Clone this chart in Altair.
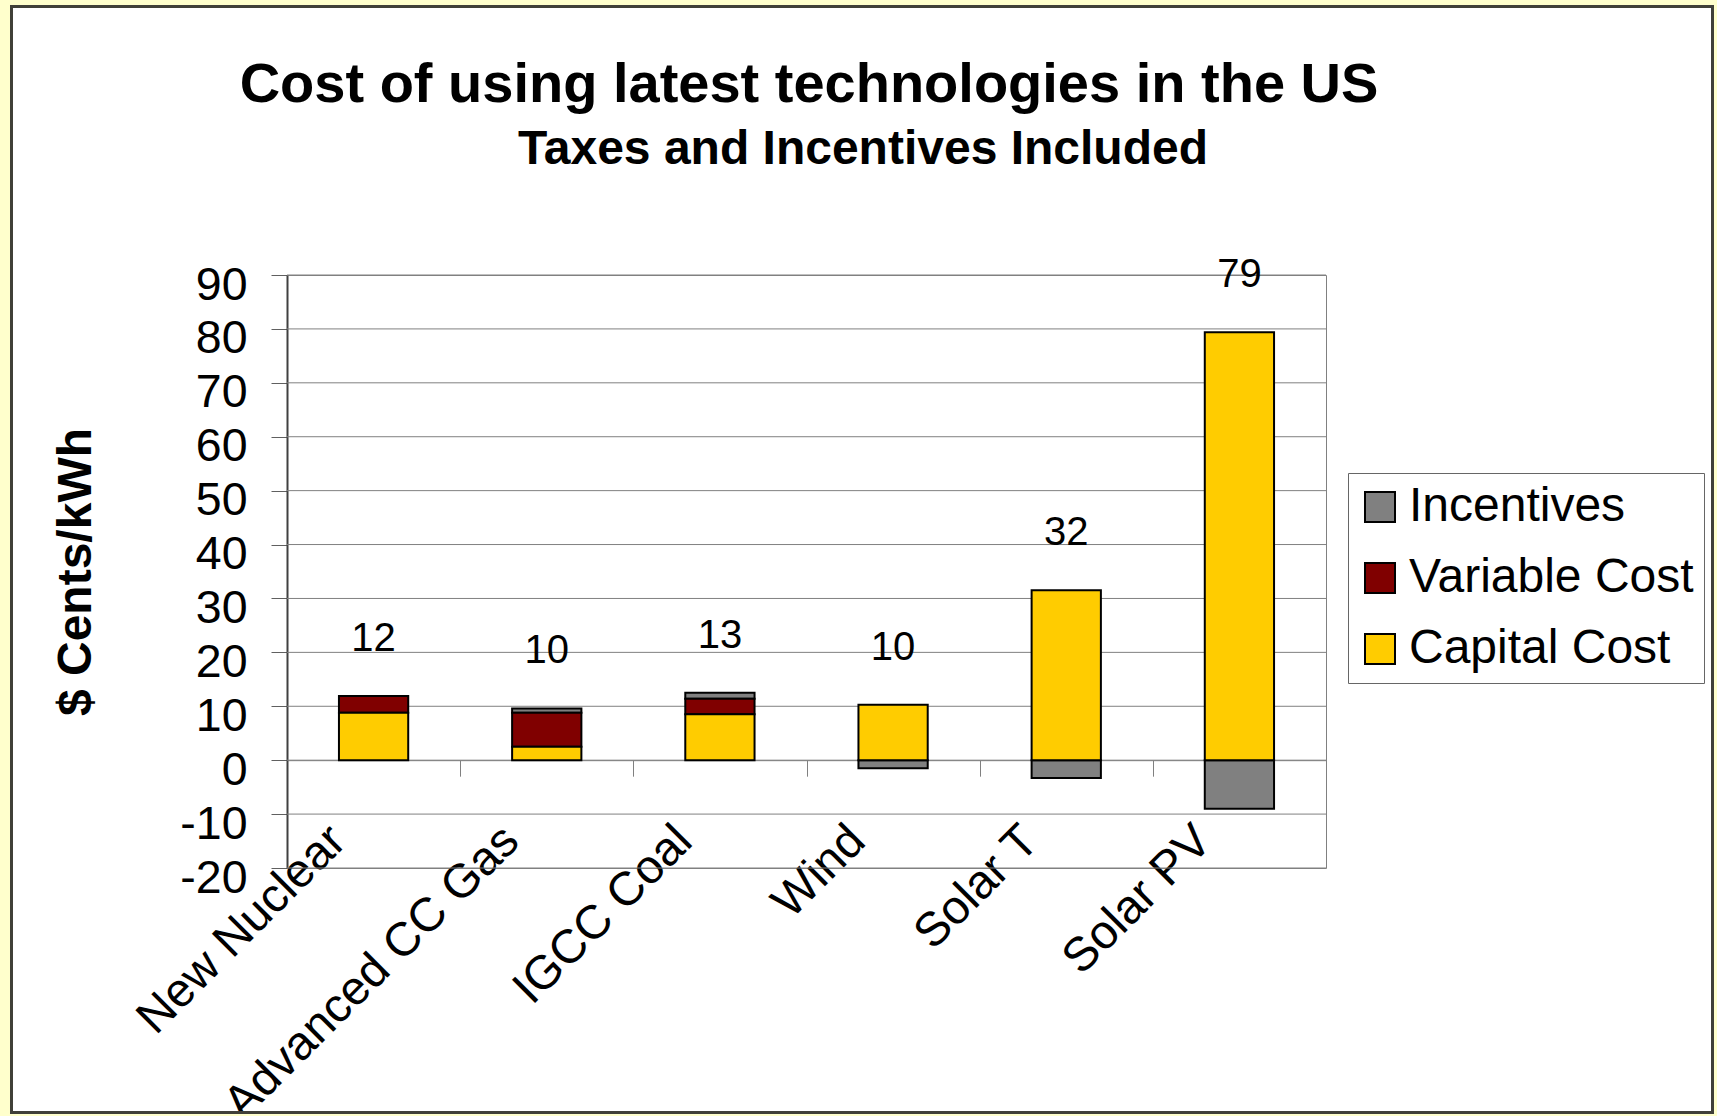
import altair as alt
import pandas as pd

# ---------------- data ----------------
categories = ["New Nuclear", "Advanced CC Gas", "IGCC Coal", "Wind", "Solar T", "Solar PV"]
capital_cost = [8.8, 2.5, 8.5, 10.3, 31.5, 79.4]
variable_cost = [3.1, 6.3, 2.9, 0.0, 0.0, 0.0]
incentives = [0.0, 0.8, 1.1, -1.5, -3.3, -9.0]
total_labels = ["12", "10", "13", "10", "32", "79"]

series = ["Incentives", "Variable Cost", "Capital Cost"]
series_colors = ["#808080", "#800000", "#FFCC00"]
stack_rank = [2, 1, 0]
y_ticks = list(range(-20, 91, 10))

title_text = "Cost of using latest technologies in the US"
subtitle_text = "Taxes and Incentives Included"
y_title = "$ Cents/kWh"

# ---------------- layout ----------------
W, H = 1039, 593
PAD_L, PAD_T, PAD_R, PAD_B = 287, 275, 391, 248
FONT = "Liberation Sans"

series_values = {"Incentives": incentives, "Variable Cost": variable_cost, "Capital Cost": capital_cost}
rows = []
for i, c in enumerate(categories):
    for s, r in zip(series, stack_rank):
        v = series_values[s][i]
        if v != 0:
            rows.append({"Technology": c, "Series": s, "Value": v, "Rank": r})
bars_df = pd.DataFrame(rows)

labels_df = pd.DataFrame({
    "Technology": categories,
    "Top": [capital_cost[i] + variable_cost[i] + max(incentives[i], 0) for i in range(len(categories))],
    "Label": total_labels,
})
grid_df = pd.DataFrame({"v": y_ticks})
one = pd.DataFrame({"t": [title_text], "s": [subtitle_text]})

y_scale = alt.Scale(domain=[-20, 90], nice=False, zero=False)
x_scale = alt.Scale(domain=categories, paddingInner=0, paddingOuter=0)

y_axis = alt.Axis(
    values=y_ticks, grid=False, domain=True, domainColor="#404040", domainWidth=2,
    ticks=True, tickSize=16, tickColor="#606060", tickWidth=1,
    labelFontSize=46.5, labelColor="black", labelPadding=24, labelOffset=10,
    labelBaseline="middle", labelFlush=False, labelOverlap=False,
    labelExpr="'' + datum.value",
    title=y_title, titleFontSize=48, titleFontWeight="bold", titleColor="black",
    titleAngle=270, titleX=90 - PAD_L, titleY=H / 2, titleAlign="center",
    titleBaseline="alphabetic",
)
x_axis = alt.Axis(
    title=None, orient="bottom", offset=-(H * 20 / 110),
    domain=True, domainColor="#808080", domainWidth=1,
    ticks=True, tickBand="extent", tickSize=16, tickColor="#808080", tickWidth=1,
    labelAngle=315, labelAlign="right", labelBaseline="alphabetic",
    labelPadding=67, labelOffset=-26, labelFontSize=47.5, labelColor="black",
    labelOverlap=False, labelLimit=0, grid=False,
)

x_enc = alt.X("Technology:N", sort=categories, scale=x_scale, axis=x_axis)

# background: light yellow margin and dark frame
margin = alt.Chart(one).mark_rect(fillOpacity=0, stroke="#FFFFCC", strokeWidth=40).encode(
    x=alt.value(10 - 20 - PAD_L), x2=alt.value(1714 + 20 - PAD_L),
    y=alt.value(5 - 20 - PAD_T), y2=alt.value(1114 + 20 - PAD_T),
)
frame = alt.Chart(one).mark_rect(fillOpacity=0, stroke="#404038", strokeWidth=3).encode(
    x=alt.value(11.5 - PAD_L), x2=alt.value(1712.5 - PAD_L),
    y=alt.value(6.5 - PAD_T), y2=alt.value(1112.5 - PAD_T),
)

grid = alt.Chart(grid_df).mark_rule(color="#808080", strokeWidth=1).encode(
    y=alt.Y("v:Q", scale=y_scale, axis=y_axis),
    x=alt.value(0), x2=alt.value(W),
)

bars = alt.Chart(bars_df).mark_bar(
    width=alt.RelativeBandSize(0.4), stroke="black", strokeWidth=2
).encode(
    x=x_enc,
    y=alt.Y("Value:Q", stack="zero", scale=y_scale, axis=y_axis),
    color=alt.Color(
        "Series:N",
        scale=alt.Scale(domain=series, range=series_colors),
        legend=alt.Legend(
            orient="none", legendX=1348 - PAD_L, legendY=473 - PAD_T, title=None,
            fillColor="white", strokeColor="#666666", padding=10,
            symbolType="square", symbolSize=900, symbolStrokeColor="black",
            symbolStrokeWidth=2, symbolOpacity=1, symbolOffset=-2,
            labelFontSize=48, labelFont=FONT, labelColor="black", labelOffset=5,
            labelLimit=500, rowPadding=23,
        ),
    ),
    order=alt.Order("Rank:Q", sort="ascending"),
)

value_labels = alt.Chart(labels_df).mark_text(
    fontSize=40, color="black", dy=-45, baseline="alphabetic", align="center"
).encode(
    x=x_enc,
    y=alt.Y("Top:Q", scale=y_scale, axis=y_axis),
    text="Label:N",
)

title = alt.Chart(one).mark_text(
    fontSize=56, fontWeight="bold", color="black", align="center", baseline="alphabetic"
).encode(x=alt.value(809 - PAD_L), y=alt.value(102 - PAD_T), text="t:N")

subtitle = alt.Chart(one).mark_text(
    fontSize=48, fontWeight="bold", color="black", align="center", baseline="alphabetic"
).encode(x=alt.value(863 - PAD_L), y=alt.value(164 - PAD_T), text="s:N")

chart = alt.layer(margin, frame, grid, bars, value_labels, title, subtitle).properties(
    width=W, height=H,
    padding={"left": PAD_L, "top": PAD_T, "right": PAD_R, "bottom": PAD_B},
    autosize=alt.AutoSizeParams(type="none"),
).configure(
    font=FONT, background="white"
).configure_view(
    stroke="#808080", strokeWidth=1
)

chart.save("out.html", embed_options={"renderer": "svg", "actions": False})
